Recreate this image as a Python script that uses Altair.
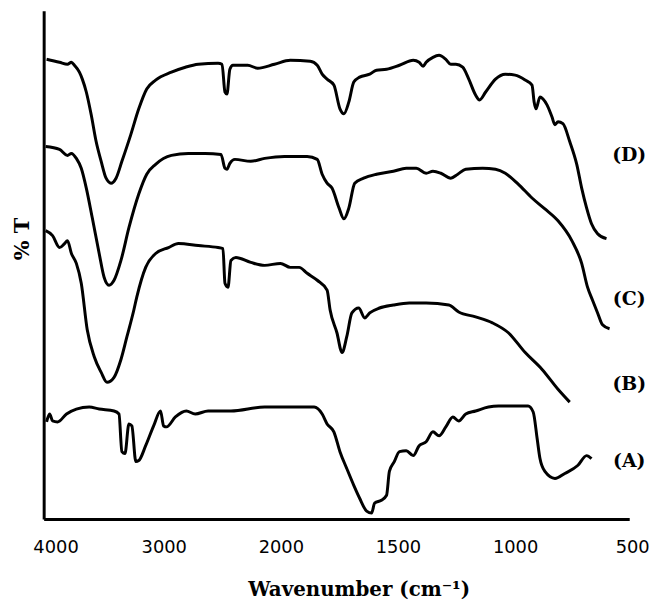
import altair as alt
import pandas as pd

# Curve D (top)
d_wn = [3975, 3865, 3797, 3763, 3738, 3695, 3670, 3636, 3594, 3552, 3509, 3467, 3425, 3382, 3332, 3256,
        3188, 3120, 3044, 2909, 2790, 2680, 2511, 2477, 2452, 2435, 2410, 2384, 2257, 2173, 2029, 1947,
        1862, 1832, 1811, 1790, 1761, 1735, 1718, 1697, 1676, 1651, 1608, 1579, 1536, 1481, 1422, 1397,
        1380, 1367, 1338, 1312, 1283, 1262, 1240, 1211, 1185, 1156, 1139, 1113, 1071, 1029, 987, 944,
        915, 906, 898, 881, 868, 851, 830, 817, 804, 783, 754, 724, 703, 682, 661, 635, 597]
d_t = [464, 461, 459, 461, 458, 451, 444, 431, 408, 381, 361, 344, 339, 344, 361, 388,
       414, 434, 443, 451, 456, 459, 460, 459, 431, 429, 454, 458, 458, 455, 459, 463,
       462, 458, 449, 444, 438, 414, 409, 421, 441, 446, 449, 453, 454, 458, 463, 461,
       457, 461, 466, 468, 464, 459, 459, 456, 444, 428, 423, 431, 444, 449, 448, 443,
       438, 421, 414, 426, 424, 418, 406, 398, 401, 399, 381, 358, 334, 314, 298, 288, 283]

# Curve C
c_wn = [3983, 3865, 3797, 3763, 3721, 3679, 3636, 3585, 3526, 3484, 3442, 3399, 3340, 3272, 3188, 3120,
        3044, 2909, 2765, 2621, 2486, 2452, 2435, 2410, 2367, 2232, 2113, 1972, 1875, 1832, 1811, 1790,
        1769, 1739, 1718, 1697, 1672, 1634, 1579, 1507, 1452, 1409, 1367, 1338, 1304, 1262, 1232, 1198,
        1126, 1071, 1029, 974, 915, 860, 804, 745, 703, 678, 657, 635, 614, 584]
c_t = [376, 373, 367, 369, 364, 354, 334, 304, 268, 244, 236, 241, 261, 294, 328, 348,
       358, 367, 369, 369, 368, 354, 353, 359, 363, 361, 364, 366, 366, 363, 348, 339,
       334, 314, 303, 314, 339, 344, 348, 351, 354, 354, 349, 351, 349, 344, 348, 353,
       354, 353, 349, 338, 324, 313, 301, 281, 258, 234, 221, 208, 196, 192]

# Curve B
b_wn = [3983, 3924, 3865, 3822, 3797, 3763, 3721, 3679, 3628, 3569, 3509, 3459, 3399, 3340, 3289, 3230,
        3205, 3129, 3044, 2934, 2849, 2680, 2511, 2469, 2452, 2426, 2401, 2359, 2232, 2113, 1989, 1947,
        1909, 1875, 1832, 1790, 1777, 1748, 1726, 1706, 1684, 1655, 1629, 1608, 1566, 1507, 1439, 1367,
        1270, 1228, 1156, 1084, 1016, 944, 872, 804, 754]
b_t = [291, 286, 274, 278, 281, 268, 258, 238, 191, 164, 148, 138, 143, 161, 184, 211,
       224, 254, 268, 274, 278, 276, 274, 273, 238, 234, 261, 264, 259, 256, 258, 254,
       254, 248, 241, 231, 211, 188, 168, 184, 208, 213, 203, 208, 213, 216, 218, 218,
       216, 209, 204, 198, 188, 168, 151, 131, 118]

# Curve A (bottom)
a_wn = [3975, 3949, 3924, 3882, 3805, 3721, 3611, 3526, 3399, 3357, 3332, 3306, 3272, 3247, 3213, 3188,
        3129, 3061, 3002, 2976, 2951, 2875, 2782, 2706, 2596, 2401, 2113, 1917, 1845, 1811, 1790, 1761,
        1735, 1706, 1676, 1651, 1621, 1600, 1587, 1558, 1536, 1524, 1503, 1481, 1452, 1422, 1397, 1367,
        1338, 1312, 1283, 1253, 1228, 1198, 1156, 1101, 1058, 932, 910, 893, 881, 860, 817, 775,
        720, 682, 661]
a_t = [98, 106, 99, 98, 106, 111, 113, 111, 109, 106, 68, 66, 96, 94, 58, 59,
       74, 94, 109, 94, 93, 103, 109, 106, 109, 109, 113, 113, 113, 106, 96, 88,
       68, 51, 34, 21, 8, 6, 16, 19, 24, 48, 58, 68, 69, 64, 74, 78,
       88, 84, 93, 103, 99, 106, 109, 113, 114, 114, 108, 81, 61, 48, 41, 46,
       54, 64, 61]

labels = ["(D)", "(C)", "(B)", "(A)"]
label_wn = [500, 500, 500, 500]
label_t = [367, 222, 136, 59]

tick_values = [4000, 3000, 2000, 1500, 1000, 500]

rows = []
for name, wn, t in [("D", d_wn, d_t), ("C", c_wn, c_t), ("B", b_wn, b_t), ("A", a_wn, a_t)]:
    for w, v in zip(wn, t):
        rows.append({"series": name, "wn": w, "t": v})
df = pd.DataFrame(rows)
lab = pd.DataFrame({"label": labels, "wn": label_wn, "t": label_t})

xscale = alt.Scale(domain=[4000, 2000, 500], range=[0, 236.4, 591], nice=False, zero=False)
yscale = alt.Scale(domain=[0, 513], nice=False, zero=False)

lines = alt.Chart(df).mark_line(color="black", strokeWidth=3, strokeJoin="round",
                                interpolate="monotone").encode(
    x=alt.X("wn:Q", scale=xscale,
            axis=alt.Axis(values=tick_values, format="d", ticks=False, grid=False, domainColor="black",
                          domainWidth=3, labelFont="DejaVu Sans", labelFontSize=18,
                          labelColor="black", labelPadding=20, labelFlush=False,
                          labelOffset={"condition": {"test": "datum.value == 4000", "value": 12}, "value": 3},
                          title="Wavenumber (cm⁻¹)", titleFont="DejaVu Serif", titleFontSize=20,
                          titleFontWeight="bold", titleColor="black", titleX=318, titleY=71,
                          titleBaseline="middle", titleAlign="center")),
    y=alt.Y("t:Q", scale=yscale,
            axis=alt.Axis(labels=False, ticks=False, grid=False, domainColor="black", domainWidth=3,
                          title="% T", titleFont="DejaVu Serif", titleFontSize=21,
                          titleFontWeight="bold", titleColor="black", titleX=-21, titleY=230,
                          titleBaseline="middle", titleAlign="center", titleAngle=270)),
    detail="series:N",
)

texts = alt.Chart(lab).mark_text(font="DejaVu Serif", fontSize=19, fontWeight="bold",
                                 color="black", align="center", baseline="middle").encode(
    x=alt.X("wn:Q", scale=xscale),
    y=alt.Y("t:Q", scale=yscale),
    text="label:N",
)

chart = alt.layer(lines, texts).properties(
    width=591, height=513,
    autosize=alt.AutoSizeParams(type="none"),
    padding={"left": 36, "top": 0, "right": 24, "bottom": 85},
).configure_view(stroke=None, strokeWidth=0)

chart.save("out.html", embed_options={"renderer": "svg", "actions": False})
